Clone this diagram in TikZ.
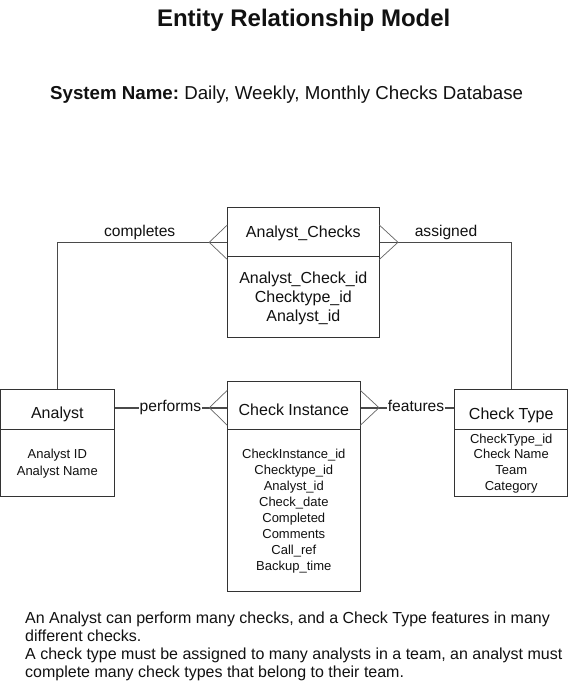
\documentclass[tikz,border=0pt]{standalone}
\usepackage{fontspec}
\setmainfont{Liberation Sans}
\usetikzlibrary{calc}
\frenchspacing
\definecolor{boxline}{HTML}{333333}
\definecolor{conline}{HTML}{4A4A4A}
\definecolor{footline}{HTML}{666666}
\definecolor{txt}{HTML}{111111}
\tikzset{
  entity/.style={draw=boxline, line width=0.9pt, fill=white, inner sep=0pt},
  divider/.style={draw=boxline, line width=0.9pt},
  conn/.style={draw=conline, line width=0.8pt},
  thickconn/.style={draw=conline, line width=1.6pt},
  foot/.style={draw=footline, line width=0.7pt},
  bigtxt/.style={text=txt, inner sep=0pt, anchor=base, font=\fontsize{16}{18}\selectfont},
  attr/.style={text=txt, inner sep=0pt, anchor=base, font=\fontsize{13}{15}\selectfont},
  relname/.style={text=txt, inner sep=1pt, anchor=base, font=\fontsize{15.6}{18}\selectfont},
  notetxt/.style={text=txt, inner sep=0pt, anchor=base west, font=\fontsize{16}{18}\selectfont},
}
\begin{document}
\begin{tikzpicture}[x=1pt,y=-1pt]
\useasboundingbox (0,0) rectangle (569,687);
\fill[white] (0,0) rectangle (569,687);

% titles
\node[text=txt, inner sep=0pt, anchor=base, font=\bfseries\fontsize{24}{28}\selectfont] (title) at (303.7,26.7) {Entity Relationship Model};
\node[text=txt, inner sep=0pt, anchor=base west, font=\fontsize{18.7}{22}\selectfont] (sys) at (50,100) {\textbf{System Name:} Daily, Weekly, Monthly Checks Database};

% entity boxes
\node[entity, minimum width=152pt, minimum height=130pt] (ac) at (303.3,272.3) {};
\node[entity, minimum width=113.6pt, minimum height=107.7pt] (an) at (57.5,442.85) {};
\node[entity, minimum width=133pt, minimum height=209.3pt] (ci) at (293.8,486.35) {};
\node[entity, minimum width=113pt, minimum height=107.7pt] (ct) at (511.2,442.85) {};

% dividers
\coordinate (acd) at (0,256.7);
\coordinate (bd) at (0,429);
\draw[divider] (ac.west |- acd) -- (ac.east |- acd);
\draw[divider] (an.west |- bd) -- (an.east |- bd);
\draw[divider] (ci.west |- bd) -- (ci.east |- bd);
\draw[divider] (ct.west |- bd) -- (ct.east |- bd);

% box titles
\node[bigtxt] (actitle) at (303.3,237.4) {Analyst\_Checks};
\node[bigtxt] (antitle) at (57.3,418.4) {Analyst};
\node[bigtxt] (cititle) at (293.8,415) {Check Instance};
\node[bigtxt] (cttitle) at (511.2,419) {Check Type};

% Analyst_Checks attributes
\node[bigtxt] (aca1) at (303.3,283.7) {Analyst\_Check\_id};
\node[bigtxt] (aca2) at (303.3,302.7) {Checktype\_id};
\node[bigtxt] (aca3) at (303.3,321.7) {Analyst\_id};

% Analyst attributes
\node[attr] (ana1) at (57.3,458.7) {Analyst ID};
\node[attr] (ana2) at (57.3,475.2) {Analyst Name};

% Check Instance attributes
\node[attr] (cia1) at (293.8,458) {CheckInstance\_id};
\node[attr] (cia2) at (293.8,474) {Checktype\_id};
\node[attr] (cia3) at (293.8,490) {Analyst\_id};
\node[attr] (cia4) at (293.8,506) {Check\_date};
\node[attr] (cia5) at (293.8,522) {Completed};
\node[attr] (cia6) at (293.8,538) {Comments};
\node[attr] (cia7) at (293.8,554) {Call\_ref};
\node[attr] (cia8) at (293.8,570) {Backup\_time};

% Check Type attributes
\node[attr] (cta1) at (511.2,443) {CheckType\_id};
\node[attr] (cta2) at (511.2,458.7) {Check Name};
\node[attr] (cta3) at (511.2,474.7) {Team};
\node[attr] (cta4) at (511.2,490.7) {Category};

% relationship labels
\node[relname] (completes) at (139.7,236.5) {completes};
\node[relname] (assigned) at (446,236.5) {assigned};
\node[relname] (performs) at (170.5,411.7) {performs};
\node[relname] (features) at (416,411.7) {features};

% completes: Analyst -- Analyst_Checks
\coordinate (tipL) at (209.2,242.3);
\coordinate (acLu) at (227.3,225);
\coordinate (acLd) at (227.3,259.5);
\draw[conn] (an.north) |- (tipL) -- (ac.west |- tipL);
\draw[foot] (acLu) -- (tipL) -- (acLd);

% assigned: Analyst_Checks -- Check Type
\coordinate (tipR) at (398,242.3);
\coordinate (acRu) at (379.3,225);
\coordinate (acRd) at (379.3,259.5);
\draw[conn] (ac.east |- tipR) -- (tipR) -| (ct.north);
\draw[foot] (acRu) -- (tipR) -- (acRd);

% performs: Analyst -- Check Instance
\coordinate (tipP) at (209.3,407.7);
\coordinate (ciLu) at (227.3,390.3);
\coordinate (ciLd) at (227.3,425.3);
\draw[thickconn] (an.east |- tipP) -- (performs.west |- tipP);
\draw[thickconn] (performs.east |- tipP) -- (tipP) -- (ci.west |- tipP);
\draw[foot] (ciLu) -- (tipP) -- (ciLd);

% features: Check Instance -- Check Type
\coordinate (tipF) at (379,407.7);
\coordinate (ciRu) at (360.3,390.3);
\coordinate (ciRd) at (360.3,425.3);
\draw[thickconn] (ci.east |- tipF) -- (tipF) -- (features.west |- tipF);
\draw[thickconn] (features.east |- tipF) -- (ct.west |- tipF);
\draw[foot] (ciRu) -- (tipF) -- (ciRd);

% note
\node[notetxt] (note1) at (25,623.5) {An Analyst can perform many checks, and a Check Type features in many};
\node[notetxt] (note2) at (25,641.5) {different checks.};
\node[notetxt] (note3) at (25,659.5) {A check type must be assigned to many analysts in a team, an analyst must};
\node[notetxt] (note4) at (25,677.5) {complete many check types that belong to their team.};
\end{tikzpicture}
\end{document}
